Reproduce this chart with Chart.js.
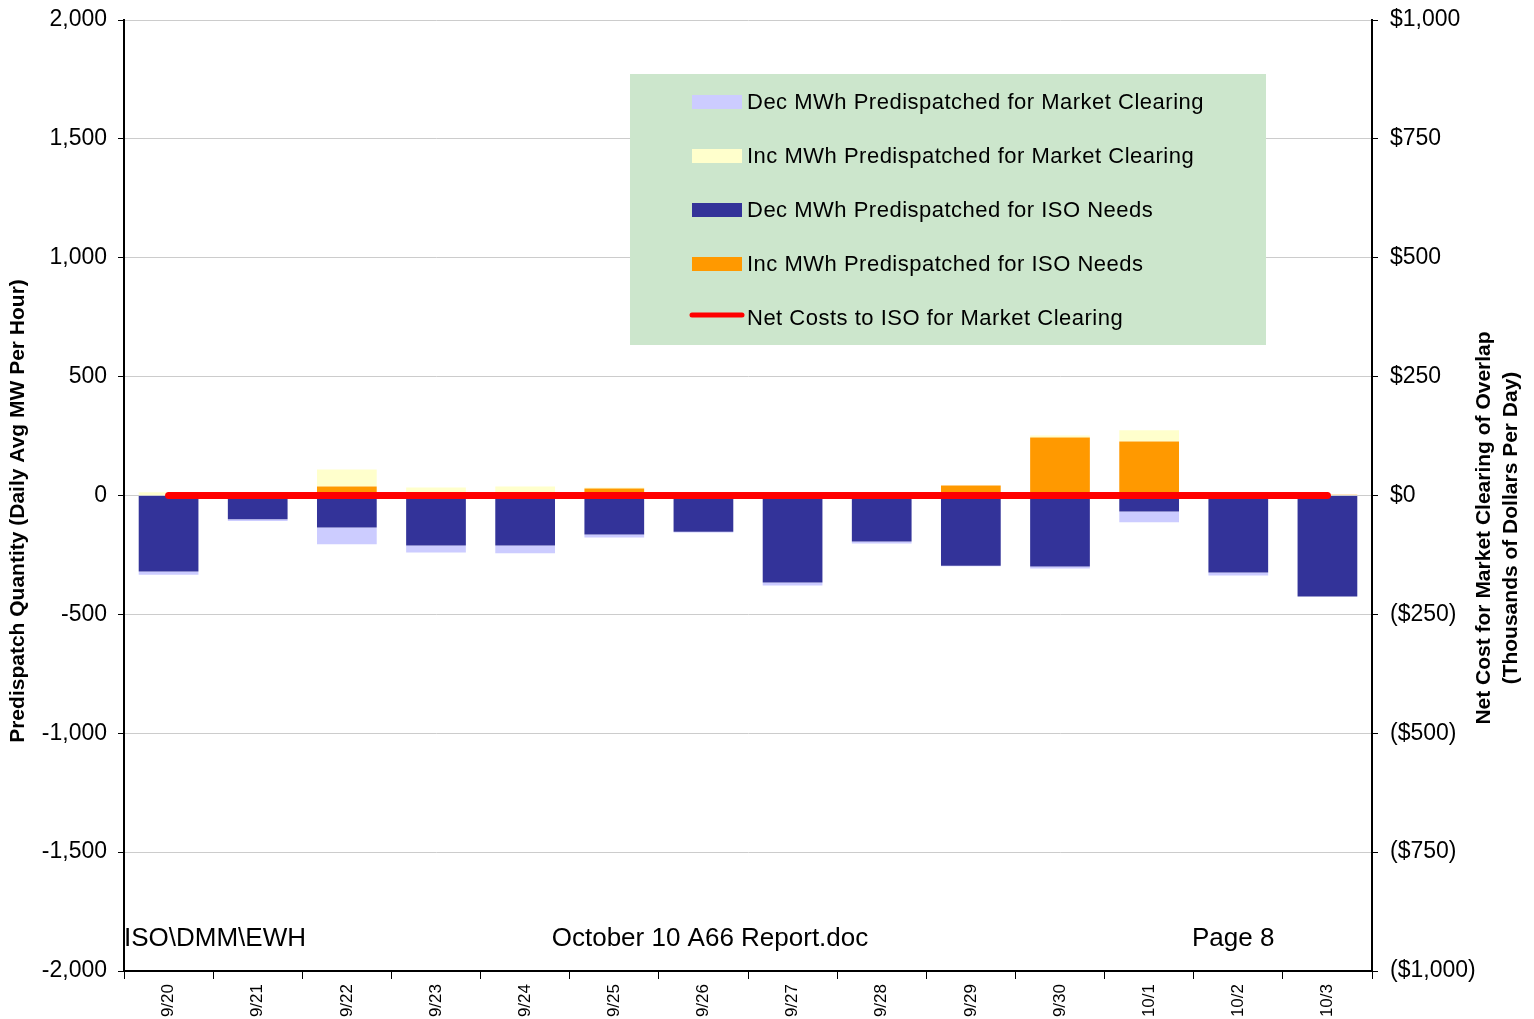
<!DOCTYPE html>
<html>
<head>
<meta charset="utf-8">
<script src="https://cdn.jsdelivr.net/npm/chart.js@4.4.1/dist/chart.umd.min.js"></script>
<style>
  html, body { margin: 0; padding: 0; background: #fff; }
  #wrap { width: 1534px; height: 1019px; position: relative; }
</style>
</head>
<body>
<div id="wrap"><canvas id="chart" width="1534" height="1019"></canvas></div>
<script>
// Dates along the bottom axis
const categories = ['9/20', '9/21', '9/22', '9/23', '9/24', '9/25', '9/26',
                    '9/27', '9/28', '9/29', '9/30', '10/1', '10/2', '10/3'];

// MW per hour (daily average)
const decIsoNeeds = [-320, -100, -135, -210, -210, -164, -152, -366, -194, -295, -299, -67, -324, -425];
const incIsoNeeds = [0, 0, 38, 0, 0, 29, 0, 0, 0, 42, 244, 227, 0, 3];
const decMarketClearing = [-13, -7, -70, -30, -33, -13, -4, -13, -8, -3, -8, -46, -13, 0];
const incMarketClearing = [14, 0, 71, 34, 38, 5, 0, 0, 0, 0, 8, 47, 0, 0];

// Thousands of dollars per day, right axis
const netCosts = [0, 0, 0, 0, 0, 0, 0, 0, 0, 0, 0, 0, 0, 0];

const leftTicks = [-2000, -1500, -1000, -500, 0, 500, 1000, 1500, 2000];
const rightTicks = [-1000, -750, -500, -250, 0, 250, 500, 750, 1000];

const FONT = '"Liberation Sans", Arial, sans-serif';

const fmtLeft = v => v.toLocaleString('en-US');
const fmtRight = v => {
    const s = '$' + Math.abs(v).toLocaleString('en-US');
    return v < 0 ? '(' + s + ')' : s;
};

// datasets are in stacking order (closest to zero first); legend uses its own order
const datasets = [
    { label: 'Dec MWh Predispatched for ISO Needs', data: decIsoNeeds, backgroundColor: '#333399' },
    { label: 'Inc MWh Predispatched for ISO Needs', data: incIsoNeeds, backgroundColor: '#FF9900' },
    { label: 'Dec MWh Predispatched for Market Clearing', data: decMarketClearing, backgroundColor: '#CCCCFF' },
    { label: 'Inc MWh Predispatched for Market Clearing', data: incMarketClearing, backgroundColor: '#FFFFCC' },
].map(d => ({
    ...d,
    type: 'bar',
    yAxisID: 'y',
    stack: 'mw',
    categoryPercentage: 0.67,
    barPercentage: 1.0,
    borderWidth: 0,
    order: 2
}));

datasets.push({
    type: 'line',
    label: 'Net Costs to ISO for Market Clearing',
    data: netCosts,
    yAxisID: 'y1',
    borderColor: '#FF0000',
    backgroundColor: '#FF0000',
    borderWidth: 7,
    borderCapStyle: 'round',
    pointRadius: 0,
    tension: 0,
    order: 1
});

const legendOrder = [2, 3, 0, 1, 4];

// keep the plot area where the reference has it, whatever the label heights
const noVPad = s => { s.paddingTop = 0; s.paddingBottom = 0; };

const decorPlugin = {
    id: 'decor',
    afterDraw(chart) {
        const ctx = chart.ctx;
        ctx.save();

        // legend box
        ctx.fillStyle = '#CCE6CC';
        ctx.fillRect(630, 74, 636, 271);
        ctx.font = '22px ' + FONT;
        ctx.letterSpacing = '0.5px';
        ctx.textBaseline = 'middle';
        ctx.textAlign = 'left';
        legendOrder.forEach((idx, i) => {
            const ds = chart.data.datasets[idx];
            const y = 102 + i * 54;
            if (ds.type === 'line') {
                ctx.strokeStyle = ds.borderColor;
                ctx.lineWidth = 5;
                ctx.lineCap = 'round';
                ctx.beginPath();
                ctx.moveTo(692, y - 3);
                ctx.lineTo(742, y - 3);
                ctx.stroke();
            } else {
                ctx.fillStyle = ds.backgroundColor;
                ctx.fillRect(692, y - 7, 50, 14);
            }
            ctx.fillStyle = '#000';
            ctx.fillText(ds.label, 747, y + 1);
        });
        ctx.letterSpacing = '0px';

        // axis titles
        ctx.font = 'bold 21px ' + FONT;
        ctx.textAlign = 'center';
        ctx.translate(18, 511);
        ctx.rotate(-Math.PI / 2);
        ctx.fillText('Predispatch Quantity (Daily Avg MW Per Hour)', 0, 0);
        ctx.setTransform(1, 0, 0, 1, 0, 0);
        ctx.translate(1484, 528);
        ctx.rotate(-Math.PI / 2);
        ctx.fillText('Net Cost for Market Clearing of Overlap', 0, 0);
        ctx.fillText('(Thousands of Dollars Per Day)', 0, 27);
        ctx.setTransform(1, 0, 0, 1, 0, 0);

        // footer text
        ctx.font = '26px ' + FONT;
        ctx.textAlign = 'left';
        ctx.fillText('ISO\\DMM\\EWH', 124, 939);
        ctx.textAlign = 'center';
        ctx.fillText('October 10 A66 Report.doc', 710, 939);
        ctx.textAlign = 'left';
        ctx.fillText('Page 8', 1192, 939);

        ctx.restore();
    }
};

new Chart(document.getElementById('chart'), {
    data: { labels: categories, datasets: datasets },
    options: {
        responsive: false,
        animation: false,
        layout: { padding: { top: 20, left: 0, right: 0, bottom: 0 } },
        plugins: {
            legend: { display: false },
            tooltip: { enabled: false }
        },
        scales: {
            x: {
                stacked: true,
                offset: true,
                grid: {
                    offset: true,
                    drawOnChartArea: false,
                    tickLength: 8,
                    tickColor: '#000'
                },
                border: { color: '#000', width: 2 },
                ticks: {
                    autoSkip: false,
                    minRotation: 90,
                    maxRotation: 90,
                    padding: 5,
                    color: '#000',
                    font: { family: FONT, size: 17 }
                },
                afterFit: s => { s.height = 48; s.paddingLeft = 0; s.paddingRight = 0; }
            },
            y: {
                position: 'left',
                stacked: true,
                min: -2000,
                max: 2000,
                afterBuildTicks: s => { s.ticks = leftTicks.map(v => ({ value: v })); },
                grid: {
                    color: '#CCCCCC',
                    lineWidth: 1,
                    tickLength: 6,
                    tickColor: '#000'
                },
                border: { color: '#000', width: 2 },
                ticks: {
                    color: '#000',
                    padding: 11,
                    font: { family: FONT, size: 23 },
                    callback: v => fmtLeft(v)
                },
                afterFit: s => { s.width = 124; noVPad(s); }
            },
            y1: {
                position: 'right',
                min: -1000,
                max: 1000,
                afterBuildTicks: s => { s.ticks = rightTicks.map(v => ({ value: v })); },
                grid: {
                    drawOnChartArea: false,
                    tickLength: 6,
                    tickColor: '#000'
                },
                border: { color: '#000', width: 2 },
                ticks: {
                    color: '#000',
                    padding: 12,
                    font: { family: FONT, size: 23 },
                    callback: v => fmtRight(v)
                },
                afterFit: s => { s.width = 162; noVPad(s); }
            }
        }
    },
    plugins: [decorPlugin]
});
</script>
</body>
</html>
